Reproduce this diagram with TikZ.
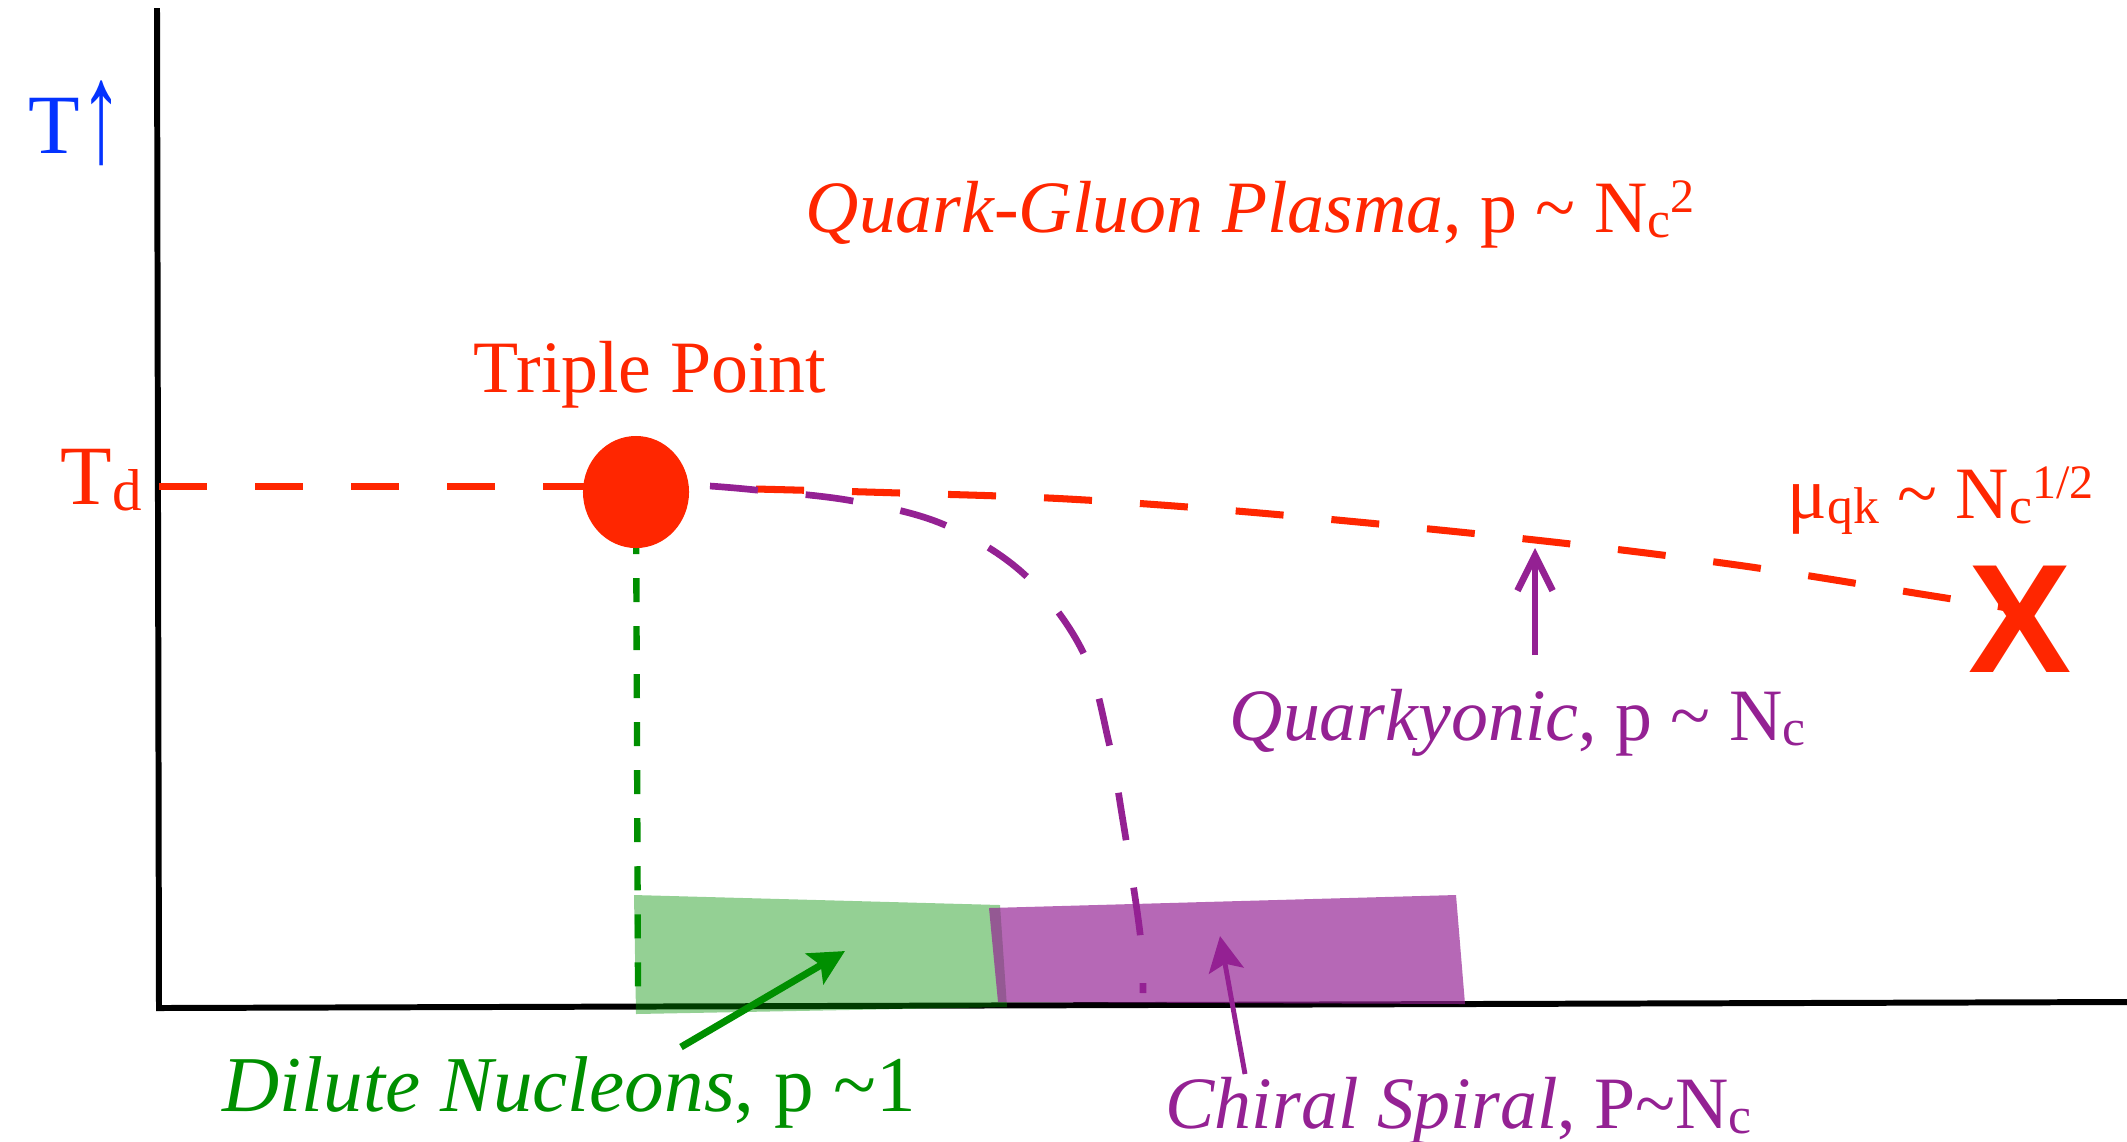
\documentclass[tikz,border=0pt]{standalone}
\usepackage{fontspec}
\usepackage{graphicx}
\setmainfont{Liberation Serif}
\newfontfamily\crossfont{Liberation Sans}
\usetikzlibrary{arrows.meta,shapes.geometric}
\definecolor{plasmared}{RGB}{255,38,0}
\definecolor{axisblue}{RGB}{4,51,255}
\definecolor{qkpurple}{RGB}{148,33,147}
\definecolor{nucgreen}{RGB}{0,143,0}
\newcommand{\lowsub}[1]{\raisebox{-0.08em}{\scalebox{0.7}{#1}}}
\newcommand{\highsup}[1]{\raisebox{0.27em}{\scalebox{0.65}{#1}}}

\begin{document}
\begin{tikzpicture}[x=0.01cm,y=-0.01cm,
    lbl/.style={inner sep=0pt,anchor=base west,font=\fontsize{21}{25}\selectfont},
    biglbl/.style={lbl,font=\fontsize{24}{28}\selectfont},
    longdash/.style={line width=2pt,dash pattern=on 0.48cm off 0.48cm},
    shortdash/.style={line width=1.8pt,dash pattern=on 0.24cm off 0.24cm,dash phase=0.1cm},
    fatarrow/.style={-{Stealth[length=10pt,width=10pt,inset=2pt]}},
    tpdot/.style={ellipse,fill=plasmared,minimum width=1.06cm,minimum height=1.12cm,inner sep=0pt}]
  \useasboundingbox (0,0) rectangle (2127,1141);
  % axes
  \draw[line width=1.7pt] (157,8) -- (159,1008) -- (2127,1002);
  % regions near the axis
  \fill[nucgreen,fill opacity=0.42] (634,895) -- (1000,905) -- (1007,1007) -- (636,1014) -- cycle;
  \fill[qkpurple,fill opacity=0.68] (989,908) -- (1456,895) -- (1465,1004) -- (998,1002) -- cycle;
  % boundaries
  \coordinate (tdaxis) at (159,486);
  \coordinate (tpc) at (636,492);
  \coordinate (nucbot) at (638,990);
  \draw[longdash,plasmared] (tdaxis) -- (tdaxis -| tpc);
  \draw[shortdash,nucgreen] (tpc) -- (nucbot);
  \draw[longdash,plasmared] plot[smooth,tension=0.6] coordinates
    {(756,489) (900,493) (1068,499) (1260,513) (1526,539) (1737,565) (1927,595) (2020,610)};
  \draw[longdash,line width=1.9pt,qkpurple] plot[smooth,tension=0.6] coordinates
    {(710,486) (756,490) (853,501) (945,525) (1025,575) (1083,652) (1109,743) (1122,815) (1140,933) (1143,993)};
  \node[tpdot] (tp) at (tpc) {};
  % labels
  \node[biglbl,axisblue] (taxis) at (28,153) {T\raisebox{-2.5pt}{\scalebox{1}[1.7]{↑}}};
  \node[biglbl,plasmared] (td) at (60,504) {T\lowsub{d}};
  \node[lbl,plasmared,anchor=base] (tplabel) at (650,392) {Triple Point};
  \node[lbl,plasmared] (qgp) at (805,232) {\textit{Quark-Gluon Plasma}, p \textasciitilde{} N\lowsub{c}\highsup{2}};
  \node[lbl,plasmared] (muqk) at (1787,518) {μ\lowsub{qk} \textasciitilde{} N\lowsub{c}\highsup{1/2}};
  \node[plasmared,inner sep=0pt,anchor=base,font=\crossfont\bfseries\fontsize{44}{48}\selectfont] (endx) at (2020,672) {X};
  \node[lbl,qkpurple] (qkyon) at (1229,740) {\textit{Quarkyonic}, p \textasciitilde{} N\lowsub{c}};
  \node[lbl,nucgreen,font=\fontsize{22.5}{27}\selectfont] (dilute) at (222,1111) {\textit{Dilute Nucleons}, p \textasciitilde1};
  \node[lbl,qkpurple] (chiral) at (1165,1128) {\textit{Chiral Spiral}, P\textasciitilde N\lowsub{c}};
  % pointers
  \coordinate (qkTail) at (1535,655);
  \coordinate (qkTip) at (1535,548);
  \coordinate (nucTail) at (681,1047);
  \coordinate (nucTip) at (845,951);
  \coordinate (csTail) at (1245,1074);
  \coordinate (csTip) at (1220,936);
  \draw[qkpurple,line width=1.9pt,-{Straight Barb[length=10pt,width=10pt]}] (qkTail) -- (qkTip);
  \draw[nucgreen,line width=2pt,fatarrow] (nucTail) -- (nucTip);
  \draw[qkpurple,line width=1.4pt,fatarrow] (csTail) -- (csTip);
\end{tikzpicture}
\end{document}
